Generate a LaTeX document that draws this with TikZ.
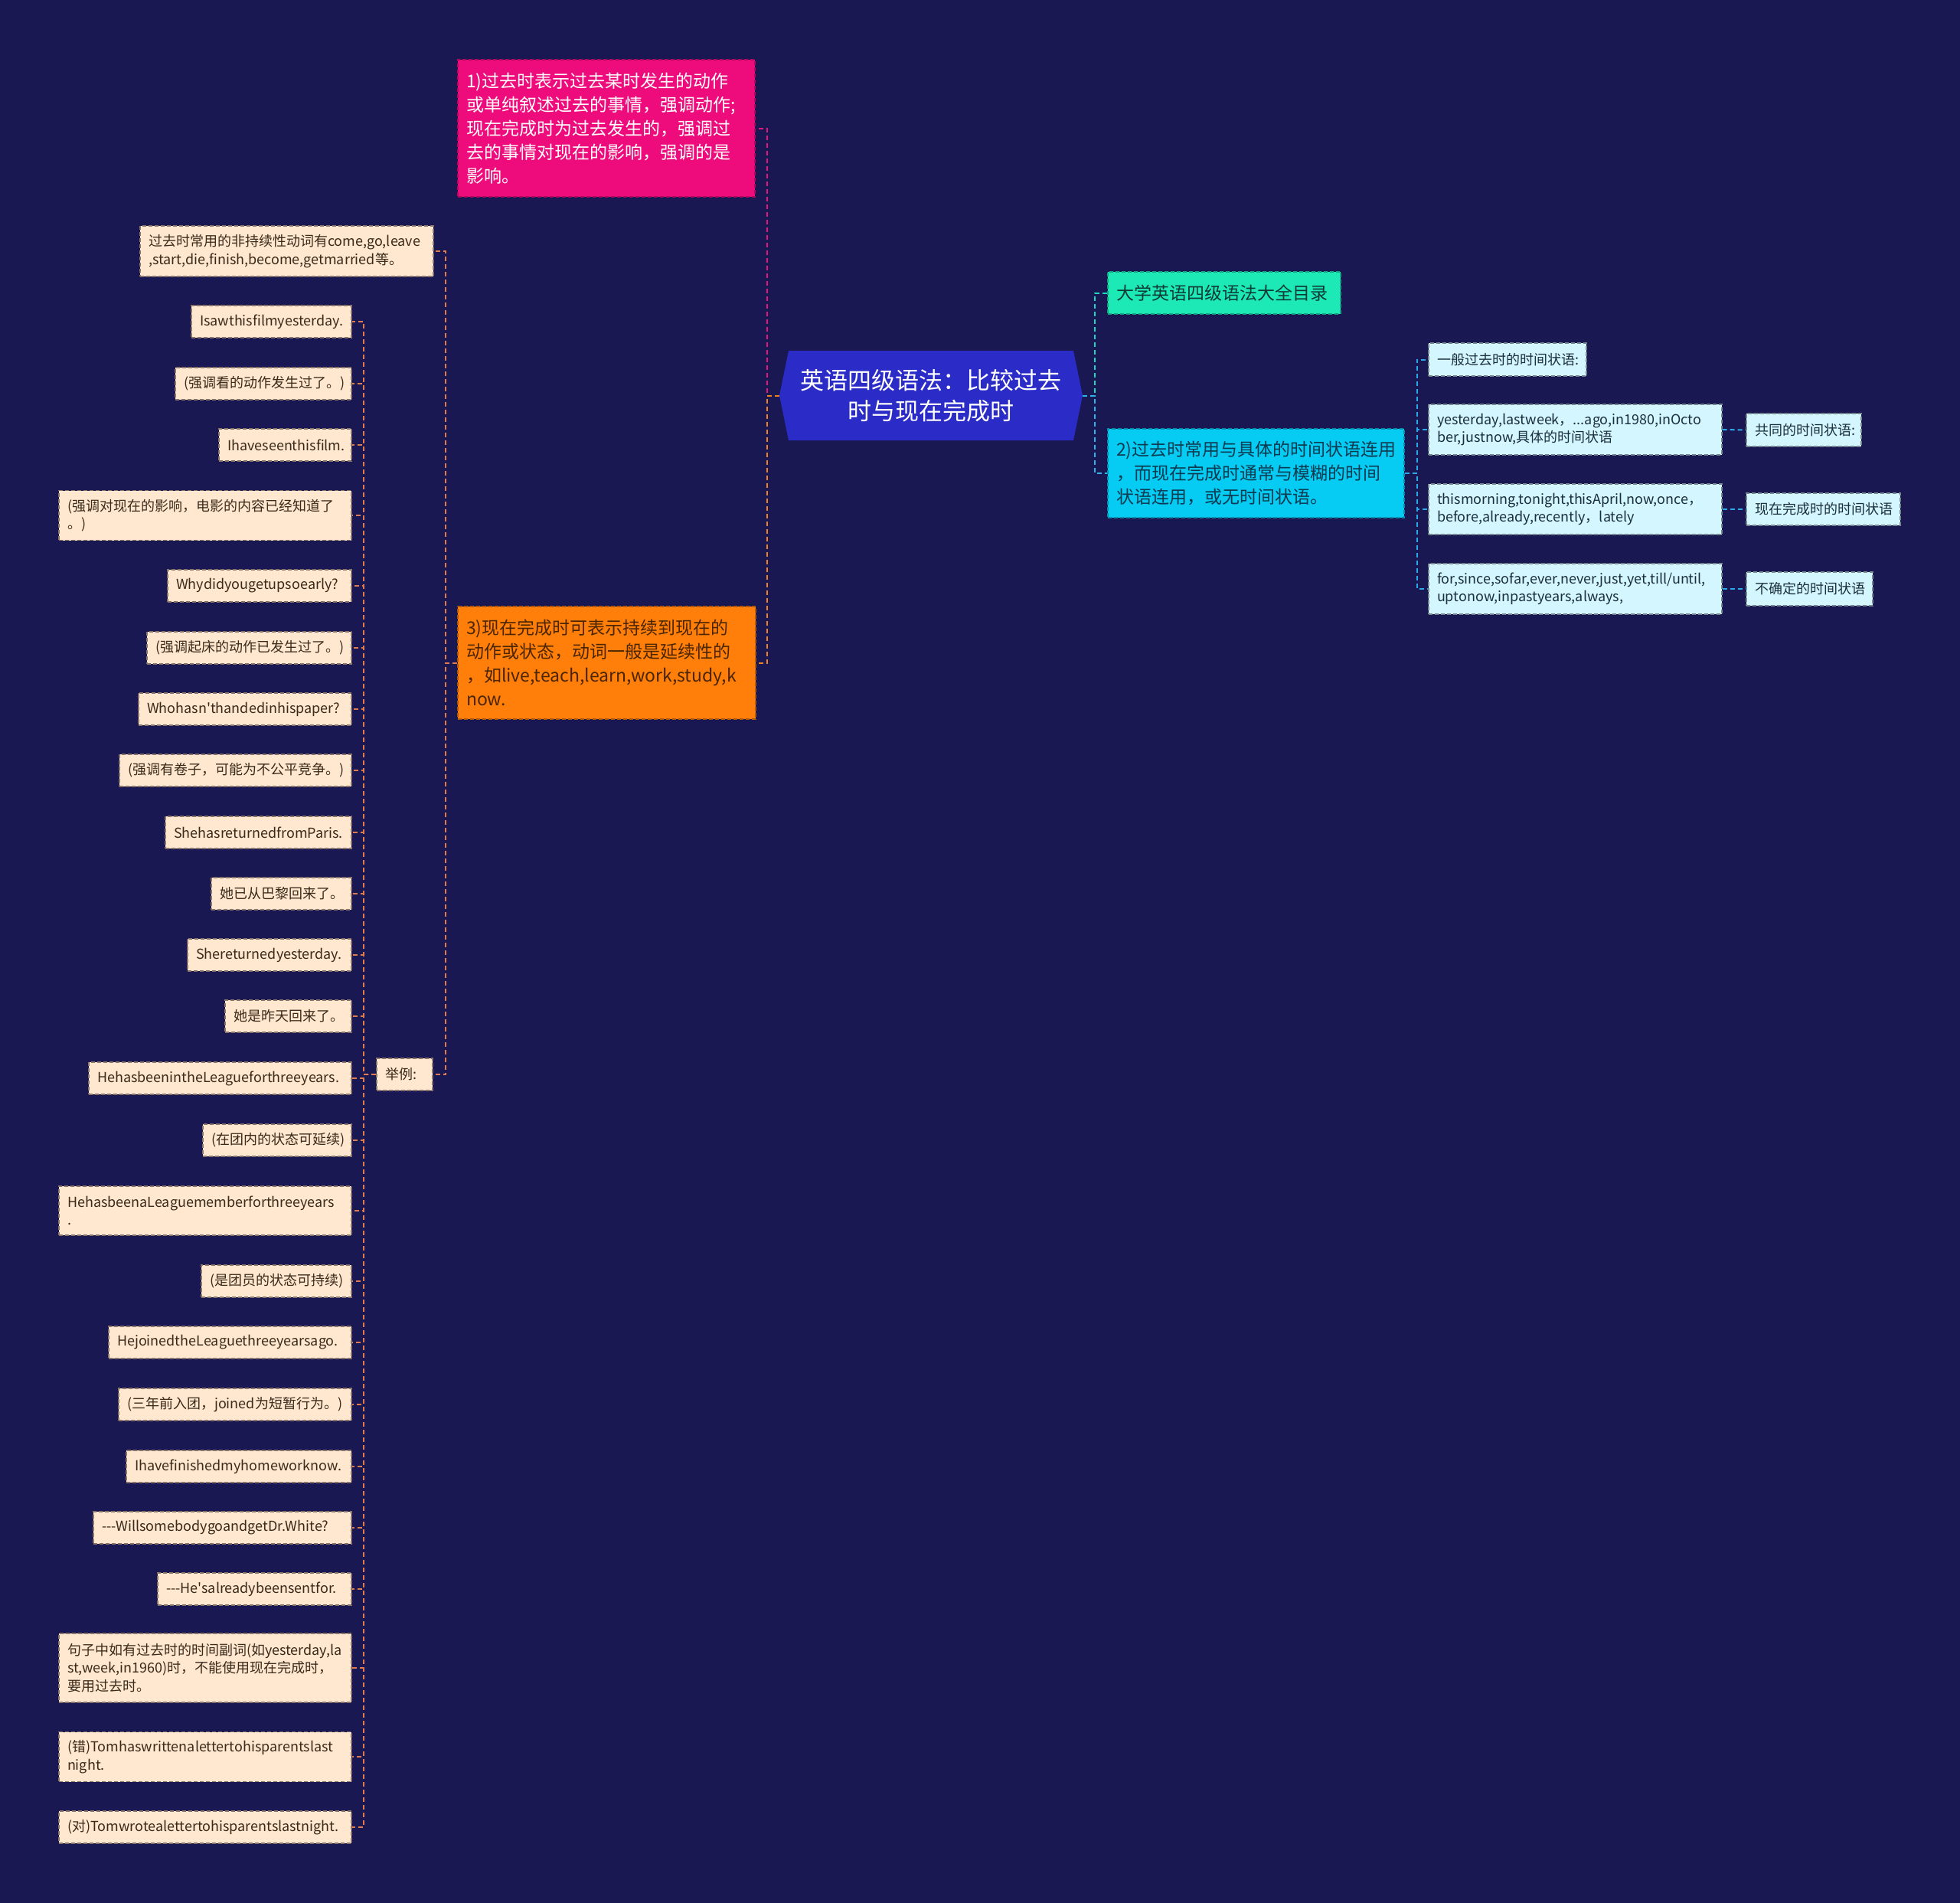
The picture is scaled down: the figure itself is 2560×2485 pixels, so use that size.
\documentclass[tikz,border=0pt]{standalone}
\usepackage{fontspec}
\setmainfont{Noto Sans CJK SC}[Ligatures=TeXOff]
\definecolor{bg}{HTML}{1A1852}
\definecolor{cfill}{HTML}{2B2BC8}
\definecolor{pinkfill}{HTML}{EE0C7C}
\definecolor{orfill}{HTML}{FF7F0A}
\definecolor{orText}{HTML}{4A2500}
\definecolor{tealfill}{HTML}{1DE9B6}
\definecolor{tealText}{HTML}{0D3A35}
\definecolor{cyfill}{HTML}{06CBF2}
\definecolor{cyText}{HTML}{0C3A50}
\definecolor{rfill}{HTML}{D4F6FF}
\definecolor{rText}{HTML}{1B2E3C}
\definecolor{exfill}{HTML}{FFE8CF}
\definecolor{exText}{HTML}{3A2A1A}
\definecolor{exBorder}{HTML}{8A7468}
\definecolor{cPink}{HTML}{E8157F}
\definecolor{cOrange}{HTML}{F08020}
\definecolor{cEx}{HTML}{E07B4F}
\definecolor{cTeal}{HTML}{1DD8C0}
\definecolor{cCyan}{HTML}{2CB5E8}
\definecolor{cBlue}{HTML}{2CA8E8}
\newcommand{\mmnode}[7]{%
  \pgfmathsetmacro{\mmw}{((#4)-(#2))*0.5}%
  \pgfmathsetmacro{\mmh}{((#5)-(#3))*0.5}%
  \pgfmathsetmacro{\mmt}{((#4)-(#2))*0.5-11}%
  \pgfmathsetmacro{\mmx}{((#2)+(#4))/2}%
  \pgfmathsetmacro{\mmy}{((#3)+(#5))/2}%
  \node[#6, minimum width=\mmw pt, minimum height=\mmh pt, text width=\mmt pt] (#1) at (\mmx,\mmy) {#7};%
}
\newcommand{\exnode}[5]{\mmnode{#1}{#2}{(#3)-(#4)/2}{459}{(#3)+(#4)/2}{exbox}{#5}}
\begin{document}
\begin{tikzpicture}[x=0.5pt,y=-0.5pt,
  box/.style={rectangle, inner xsep=5.5pt, inner ysep=0pt, align=left, line width=0.6pt, dash pattern=on 2.5pt off 1.5pt},
  exbox/.style={box, fill=exfill, draw=exBorder, text=exText, font=\fontsize{9}{11.7}\selectfont},
  rbox/.style={box, fill=rfill, draw=rfill!55!black, text=rText, font=\fontsize{9}{11.7}\selectfont},
  bigfont/.style={font=\fontsize{11.5}{15.5}\selectfont},
  conn/.style={line width=1pt, dash pattern=on 3pt off 2pt},
]
\fill[bg] (0,0) rectangle (2560,2485);
\useasboundingbox (0,0) rectangle (2560,2485);

% central hexagon
\fill[cfill] (1018,516.5) -- (1030,458) -- (1402,458) -- (1414,516.5) -- (1402,575) -- (1030,575) -- cycle;
\node[rectangle, inner sep=0pt, minimum width=198pt, minimum height=58.5pt, align=center, text=white,
  font=\fontsize{15.5}{20}\selectfont] (c) at (1216,516.5) {英语四级语法：比较过去\\时与现在完成时};

% main branches
\mmnode{n1}{598}{78}{986}{257}{box, bigfont, fill=pinkfill, draw=pinkfill!75!black, text=white}{1)过去时表示过去某时发生的动作\\或单纯叙述过去的事情，强调动作;\\现在完成时为过去发生的，强调过\\去的事情对现在的影响，强调的是\\影响。}
\mmnode{n3}{598}{792}{987}{939}{box, bigfont, fill=orfill, draw=orfill!70!black, text=orText}{3)现在完成时可表示持续到现在的\\动作或状态，动词一般是延续性的\\，如live,teach,learn,work,study,k\\now.}
\mmnode{top}{1447}{355}{1751}{410}{box, bigfont, fill=tealfill, draw=tealfill!70!black, text=tealText}{大学英语四级语法大全目录}
\mmnode{n2}{1447}{560}{1834}{676}{box, bigfont, fill=cyfill, draw=cyfill!70!black, text=cyText}{2)过去时常用与具体的时间状语连用\\，而现在完成时通常与模糊的时间\\状语连用，或无时间状语。}

% right sub nodes
\mmnode{r1}{1866}{448}{2072}{491}{rbox}{一般过去时的时间状语:}
\mmnode{r2}{1866}{528}{2249}{594}{rbox}{yesterday,lastweek，...ago,in1980,inOcto\\ber,justnow,具体的时间状语}
\mmnode{r3}{1866}{632}{2249}{698}{rbox}{thismorning,tonight,thisApril,now,once，\\before,already,recently，lately}
\mmnode{r4}{1866}{736}{2249}{802}{rbox}{for,since,sofar,ever,never,just,yet,till/until,\\uptonow,inpastyears,always,}
\mmnode{l2}{2281}{540}{2431}{583}{rbox}{共同的时间状语:}
\mmnode{l3}{2281}{644}{2482}{686}{rbox}{现在完成时的时间状语}
\mmnode{l4}{2281}{747}{2446}{791}{rbox}{不确定的时间状语}

% left nodes
\mmnode{g}{183}{295}{566}{361}{exbox}{过去时常用的非持续性动词有come,go,leave\\,start,die,finish,become,getmarried等。}
\mmnode{ju}{492}{1382}{565}{1424}{exbox}{举例:}

\exnode{e1}{250}{420}{42}{Isawthisfilmyesterday.}
\exnode{e2}{229}{501}{42}{(强调看的动作发生过了。)}
\exnode{e3}{286}{581}{42}{Ihaveseenthisfilm.}
\exnode{e4}{77}{673}{65}{(强调对现在的影响，电影的内容已经知道了\\。)}
\exnode{e5}{219}{765}{42}{Whydidyougetupsoearly?}
\exnode{e6}{192}{846}{42}{(强调起床的动作已发生过了。)}
\exnode{e7}{181}{926}{42}{Whohasn'thandedinhispaper?}
\exnode{e8}{156}{1006}{42}{(强调有卷子，可能为不公平竞争。)}
\exnode{e9}{216}{1087}{42}{ShehasreturnedfromParis.}
\exnode{e10}{276}{1167}{42}{她已从巴黎回来了。}
\exnode{e11}{245}{1247}{42}{Shereturnedyesterday.}
\exnode{e12}{294}{1327}{42}{她是昨天回来了。}
\exnode{e13}{116}{1408}{42}{HehasbeenintheLeagueforthreeyears.}
\exnode{e14}{265}{1489}{42}{(在团内的状态可延续)}
\exnode{e15}{77}{1581}{64}{HehasbeenaLeaguememberforthreeyears\\.}
\exnode{e16}{263}{1673}{42}{(是团员的状态可持续)}
\exnode{e17}{142}{1753}{42}{HejoinedtheLeaguethreeyearsago.}
\exnode{e18}{155}{1834}{42}{(三年前入团，joined为短暂行为。)}
\exnode{e19}{165}{1915}{42}{Ihavefinishedmyhomeworknow.}
\exnode{e20}{122}{1995}{42}{---WillsomebodygoandgetDr.White?}
\exnode{e21}{206}{2075}{42}{---He'salreadybeensentfor.}
\exnode{e22}{77}{2178}{90}{句子中如有过去时的时间副词(如yesterday,la\\st,week,in1960)时，不能使用现在完成时，\\要用过去时。}
\exnode{e23}{77}{2294}{65}{(错)Tomhaswrittenalettertohisparentslast\\night.}
\exnode{e24}{77}{2386}{42}{(对)Tomwrotealettertohisparentslastnight.}

% connectors
\draw[conn, cPink] (c.west) -- ++(-16,0) |- (n1.east);
\draw[conn, cOrange] (c.west) -- ++(-16,0) |- (n3.east);
\draw[conn, cTeal] (c.east) -- ++(16,0) |- (top.west);
\draw[conn, cCyan] (c.east) -- ++(16,0) |- (n2.west);
\foreach \r in {r1,r2,r3,r4} \draw[conn, cBlue] (n2.east) -- ++(16,0) |- (\r.west);
\draw[conn, cBlue] (r2.east) -- (l2.west);
\draw[conn, cBlue] (r3.east) -- (l3.west);
\draw[conn, cBlue] (r4.east) -- (l4.west);
\draw[conn, cEx] (n3.west) -- ++(-15,0) |- (g.east);
\draw[conn, cEx] (n3.west) -- ++(-15,0) |- (ju.east);
\foreach \i in {1,...,24} \draw[conn, cEx] (ju.west) -- ++(-16,0) |- (e\i.east);
\end{tikzpicture}
\end{document}
